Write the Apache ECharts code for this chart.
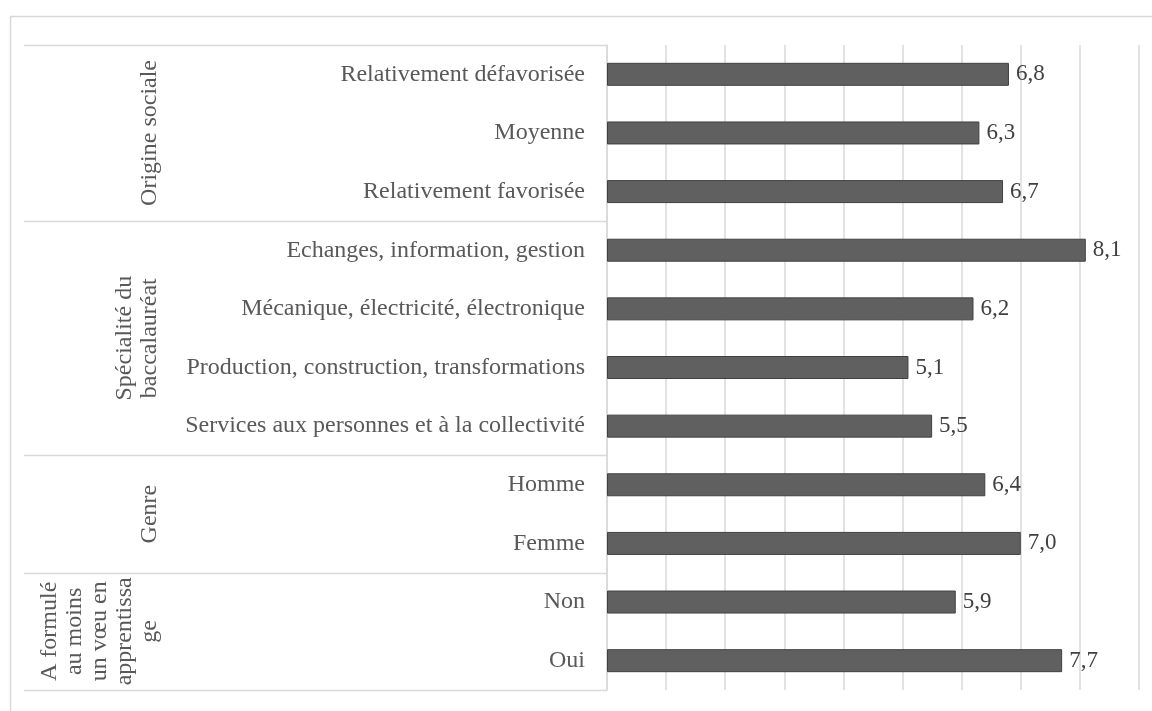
<!DOCTYPE html>
<html>
<head>
<meta charset="utf-8">
<script src="https://cdn.jsdelivr.net/npm/echarts@6/dist/echarts.min.js"></script>
<style>
  html, body { margin: 0; padding: 0; background: #fff; }
  #main { width: 1152px; height: 711px; }
</style>
</head>
<body>
<div id="main"></div>
<script>
// categories from top to bottom
const categories = [
  "Relativement défavorisée",
  "Moyenne",
  "Relativement favorisée",
  "Echanges, information, gestion",
  "Mécanique, électricité, électronique",
  "Production, construction, transformations",
  "Services aux personnes et à la collectivité",
  "Homme",
  "Femme",
  "Non",
  "Oui"
];
const values = [6.8, 6.3, 6.7, 8.1, 6.2, 5.1, 5.5, 6.4, 7.0, 5.9, 7.7];
// group labels and how many categories each one covers
const groupNames = [
  "Origine sociale",
  "Spécialité du\nbaccalauréat",
  "Genre",
  "A formulé\nau moins\nun vœu en\napprentissa\nge"
];
const groupSizes = [3, 4, 2, 2];

const FONT = "'Liberation Serif', 'Times New Roman', serif";
const W = 1152, H = 711;
const gridLeft = 607, gridRight = 13, gridTop = 45, gridBottom = 21;
const plotH = H - gridTop - gridBottom;
const band = plotH / categories.length;

// outer frame, separator lines and group labels of the left "table"
const graphics = [
  {
    type: "rect",
    shape: { x: 10.5, y: 16.5, width: 1160, height: 720 },
    style: { fill: "none", stroke: "#d9d9d9", lineWidth: 1.5 },
    silent: true
  }
];
let start = 0;
const bounds = [0];
groupSizes.forEach((n, i) => {
  const yc = gridTop + (start + n / 2) * band;
  graphics.push({
    type: "text",
    x: 162,
    y: yc,
    rotation: Math.PI / 2,
    style: {
      text: groupNames[i],
      font: "24px " + FONT,
      fill: "#595959",
      align: "center",
      verticalAlign: "bottom",
      lineHeight: 25
    },
    silent: true
  });
  start += n;
  bounds.push(start);
});
bounds.forEach(b => {
  const y = Math.round(gridTop + b * band) + 0.5;
  graphics.push({
    type: "line",
    shape: { x1: 24, y1: y, x2: gridLeft, y2: y },
    style: { stroke: "#d9d9d9", lineWidth: 1.5 },
    silent: true
  });
});

const chart = echarts.init(document.getElementById("main"), null, { renderer: "canvas" });
const option = {
  backgroundColor: "#fff",
  animation: false,
  grid: { left: gridLeft, right: gridRight, top: gridTop, bottom: gridBottom, containLabel: false },
  xAxis: {
    type: "value",
    min: 0,
    max: 9,
    interval: 1,
    axisLine: { show: false },
    axisTick: { show: false },
    axisLabel: { show: false },
    splitLine: { show: true, lineStyle: { color: "#d9d9d9", width: 1.5 } }
  },
  yAxis: {
    type: "category",
    inverse: true,
    data: categories,
    axisLine: { show: true, lineStyle: { color: "#d9d9d9", width: 1.5 } },
    axisTick: { show: false },
    axisLabel: {
      margin: 22,
      color: "#595959",
      fontFamily: FONT,
      fontSize: 24
    },
    splitLine: { show: false }
  },
  series: [
    {
      type: "bar",
      data: values,
      barWidth: 23,
      itemStyle: { color: "#606060", borderColor: "#404040", borderWidth: 1 },
      label: {
        show: true,
        position: "right",
        distance: 7,
        color: "#404040",
        fontFamily: FONT,
        fontSize: 23,
        formatter: p => p.value.toFixed(1).replace(".", ",")
      }
    }
  ],
  graphic: graphics
};
chart.setOption(option);
</script>
</body>
</html>
